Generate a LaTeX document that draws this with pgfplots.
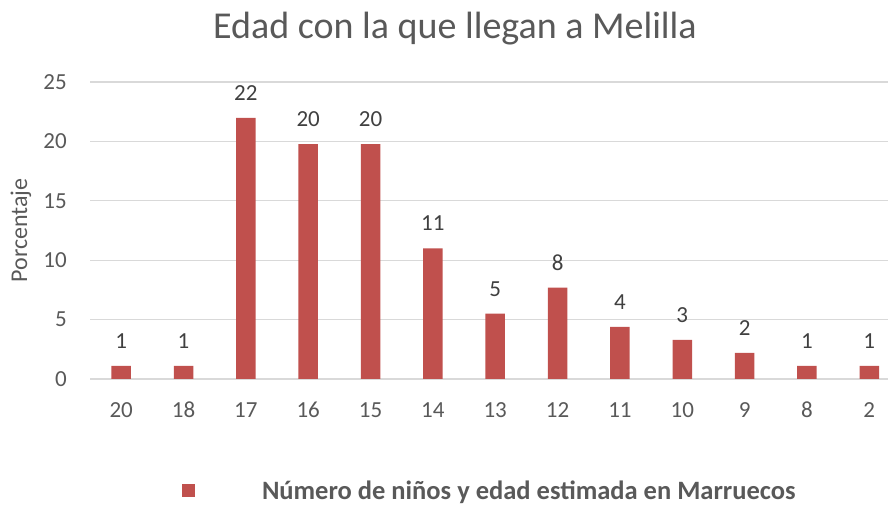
\documentclass[border=0pt]{standalone}
\usepackage{fontspec}
\setmainfont{Carlito}
\usepackage{pgfplots}
\pgfplotsset{compat=1.18}
\definecolor{barred}{HTML}{C0504D}
\definecolor{textgrey}{HTML}{595959}
\definecolor{gridgrey}{HTML}{D9D9D9}
\begin{document}
\begin{tikzpicture}[x=1pt,y=1pt]
\useasboundingbox (0,0) rectangle (888,505);
\begin{axis}[
  at={(90pt,126pt)}, anchor=south west,
  scale only axis, width=798pt, height=297pt,
  xmin=-0.5, xmax=12.3, ymin=0, ymax=25,
  ytick={0,5,10,15,20,25},
  xtick={0,1,2,3,4,5,6,7,8,9,10,11,12},
  xticklabels={20,18,17,16,15,14,13,12,11,10,9,8,2},
  axis line style={draw=none},
  major tick length=0pt,
  tick style={draw=none},
  ymajorgrids, grid style={gridgrey, line width=1.2pt},
  /pgf/number format/assume math mode=true,
  tick label style={font=\fontsize{23}{27}\selectfont, text=textgrey, inner sep=0pt},
  yticklabel style={anchor=east, xshift=-23pt},
  xticklabel style={anchor=north, yshift=-23pt},
  every axis y label/.style={at={(axis description cs:-0.0865,0.5)}, rotate=90, anchor=center},
  ylabel={Porcentaje},
  ylabel style={font=\fontsize{24}{28}\selectfont, text=textgrey},
  title={Edad con la que llegan a Melilla},
  every axis title/.style={at={(axis description cs:0.4574,1.1448)}, anchor=base, yshift=0pt, font=\fontsize{38}{44}\selectfont, text=textgrey},
  ybar, bar width=19.5pt,
  nodes near coords,
  nodes near coords style={anchor=center, yshift=25pt, font=\fontsize{23}{27}\selectfont, text=black!75, inner sep=0pt,
    /pgf/number format/.cd, fixed, precision=0, assume math mode=true},
  legend style={at={(axis description cs:0.1153,-0.3754)}, anchor=west, draw=none, fill=none,
    font=\fontsize{26.5}{30}\selectfont\bfseries, text=textgrey, inner sep=0pt, outer sep=0pt},
  legend image code/.code={\fill[barred] (0pt,-6.5pt) rectangle (13pt,6.5pt); \node[draw=none, fill=none, inner sep=0pt, minimum width=78pt, minimum height=1pt, anchor=west] at (0pt,0pt) {};},
]
\addplot[fill=barred, draw=none] coordinates {
(0,1.099) (1,1.099) (2,21.978) (3,19.780) (4,19.780) (5,10.989) (6,5.495)
(7,7.692) (8,4.396) (9,3.297) (10,2.198) (11,1.099) (12,1.099)
};
\addlegendentry{Número de niños y edad estimada en Marruecos}
\end{axis}
\end{tikzpicture}
\end{document}
